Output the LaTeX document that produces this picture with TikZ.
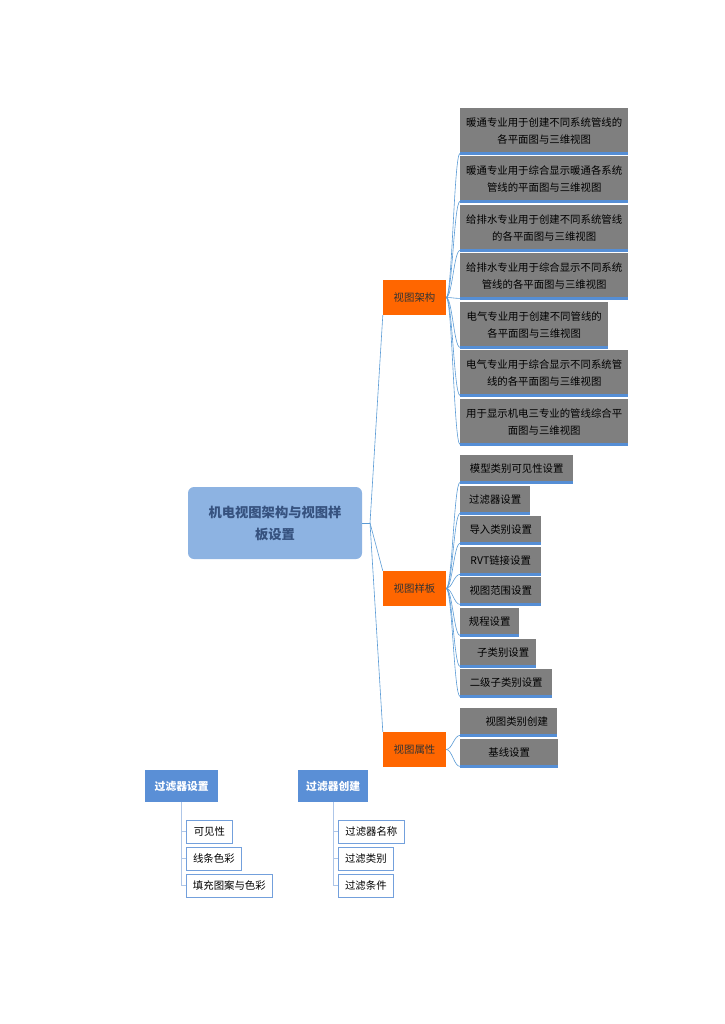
\documentclass[tikz,border=0pt]{standalone}
\usepackage{fontspec}
\setmainfont{Noto Sans CJK SC}
\usepackage{tikz}

\definecolor{rootfill}{HTML}{8DB3E2}
\definecolor{roottext}{HTML}{36527F}
\definecolor{branch}{HTML}{FF6600}
\definecolor{leafgray}{HTML}{7F7F7F}
\definecolor{underline}{HTML}{558ED5}
\definecolor{linkblue}{HTML}{5B9BD5}
\definecolor{headblue}{HTML}{5A8FD6}
\definecolor{treeline}{HTML}{AEC6E8}

\begin{document}
\begin{tikzpicture}[x=1pt, y=-1pt,
	every node/.style={font=\fontsize{10.4}{17}\selectfont, inner sep=0pt},
	rootbox/.style={fill=rootfill, rounded corners=6pt, text=roottext, align=center,
		font=\fontsize{13.3}{22}\selectfont\bfseries, minimum width=174, minimum height=72},
	branchbox/.style={fill=branch, text=black!80, minimum width=63, minimum height=35},
	leafbox/.style={fill=leafgray, text=black, align=center, anchor=north west},
	headbox/.style={fill=headblue, text=white, font=\fontsize{10.8}{13}\selectfont\bfseries,
		anchor=north west, minimum height=32},
	subbox/.style={draw=headblue!85, line width=0.7pt, fill=white, anchor=north west,
		minimum height=23, inner xsep=5pt},
	link/.style={draw=linkblue, line width=0.6pt},
	uline/.style={draw=underline, line width=2.6pt},
	tree/.style={draw=treeline, line width=0.9pt}]
	\useasboundingbox (0,0) rectangle (724,1024);

	\node[rootbox] (root) at (275,523) {机电视图架构与视图样\\板设置};
	\coordinate (hub) at (370,523);

	\node[branchbox] (arch) at (414.5,297.5) {视图架构};
	\node[branchbox] (tmpl) at (414.5,588.5) {视图样板};
	\node[branchbox] (prop) at (414.5,749.5) {视图属性};

	\draw[link] (root.east) -- (hub);
	\draw[link] (hub) -- (arch.south west);
	\draw[link] (hub) -- (tmpl.north west);
	\draw[link] (hub) -- (prop.north west);

	% view architecture
	\foreach \i/\t/\w/\txt in {1/108/168/{暖通专业用于创建不同系统管线的\\各平面图与三维视图},
		2/156/168/{暖通专业用于综合显示暖通各系统\\管线的平面图与三维视图},
		3/205/168/{给排水专业用于创建不同系统管线\\的各平面图与三维视图},
		4/253/168/{给排水专业用于综合显示不同系统\\管线的各平面图与三维视图},
		5/302/148/{电气专业用于创建不同管线的\\各平面图与三维视图},
		6/350/168/{电气专业用于综合显示不同系统管\\线的各平面图与三维视图},
		7/399/168/{用于显示机电三专业的管线综合平\\面图与三维视图}} {
		\node[leafbox, minimum width=\w, minimum height=45] (a\i) at (460,\t) {\txt};
		\draw[uline] (a\i.south west) -- (a\i.south east);
		\draw[link] (arch.east) .. controls +(6,0) and +(-6,0) .. (a\i.south west);
	}

	% view templates
	\foreach \i/\t/\w/\txt in {1/455/113/模型类别可见性设置, 2/486/70/过滤器设置,
		3/516/81/导入类别设置, 4/547/81/RVT链接设置, 5/577/81/视图范围设置,
		6/608/59/规程设置, 7/639/76/\hspace{10pt}子类别设置, 8/669/92/二级子类别设置} {
		\node[leafbox, minimum width=\w, minimum height=27] (b\i) at (460,\t) {\txt};
		\draw[uline] (b\i.south west) -- (b\i.south east);
		\draw[link] (tmpl.east) .. controls +(6,0) and +(-6,0) .. (b\i.south west);
	}

	% view properties
	\foreach \i/\t/\w/\txt in {1/708/97/\hspace{16pt}视图类别创建, 2/739/98/基线设置} {
		\node[leafbox, minimum width=\w, minimum height=27] (c\i) at (460,\t) {\txt};
		\draw[uline] (c\i.south west) -- (c\i.south east);
		\draw[link] (prop.east) .. controls +(6,0) and +(-6,0) .. (c\i.south west);
	}

	% filter boxes
	\node[headbox, minimum width=73] (fset) at (145,770) {过滤器设置};
	\node[headbox, minimum width=70] (fnew) at (298,770) {过滤器创建};

	\foreach \i/\t/\w/\txt in {1/820/46/可见性, 2/847/55/线条色彩, 3/874/86/填充图案与色彩} {
		\node[subbox, minimum width=\w] (s\i) at (186,\t) {\txt};
		\draw[tree] (fset.south) |- (s\i.west);
	}
	\foreach \i/\t/\w/\txt in {1/820/66/过滤器名称, 2/847/55/过滤类别, 3/874/55/过滤条件} {
		\node[subbox, minimum width=\w] (n\i) at (338,\t) {\txt};
		\draw[tree] (fnew.south) |- (n\i.west);
	}
\end{tikzpicture}
\end{document}
